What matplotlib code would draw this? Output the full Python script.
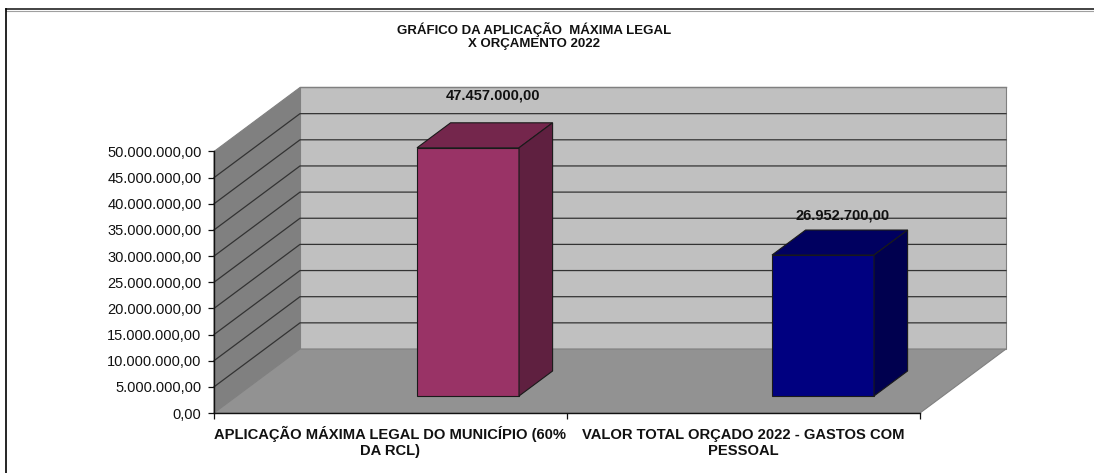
import matplotlib
matplotlib.use("Agg")
import matplotlib.pyplot as plt
from matplotlib.lines import Line2D
from matplotlib.patches import Polygon
from matplotlib.ticker import FuncFormatter

plt.rcParams["font.family"] = ["Liberation Sans", "DejaVu Sans"]

categories = [["APLICAÇÃO MÁXIMA LEGAL DO MUNICÍPIO (60%", "DA RCL)"],
              ["VALOR TOTAL ORÇADO 2022 - GASTOS COM", "PESSOAL"]]
values = [47457000.00, 26952700.00]
value_labels = ["47.457.000,00", "26.952.700,00"]
y_ticks = list(range(0, 50000001, 5000000))
title = "GRÁFICO DA APLICAÇÃO  MÁXIMA LEGAL\nX ORÇAMENTO 2022"

W, H = 1094, 473
X0, X1, Y0, Y1 = 214, 920, 413, 151.5  # front plane of the plot, in pixels
YMAX = 50000000

# pixel to data scales on the front plane
px_x = 2 / (X1 - X0)
px_y = YMAX / (Y0 - Y1)
DX, DY = 86 * px_x, 64 * px_y  # full depth of the box

BAR_COLORS = [("#993366", "#74264c", "#5f2040"), ("#000080", "#000060", "#00004f")]
BAR_LEFT = [417, 772]
BAR_W = 102 * px_x
BAR_DEPTH = 25 / 64
BAR_OFFSET = 17 / 64


def fmt(v, _pos=None):
    return f"{v:,.2f}".replace(",", "X").replace(".", ",").replace("X", ".")


fig = plt.figure(figsize=(W / 100, H / 100), dpi=100)
ax = fig.add_axes([X0 / W, 1 - Y0 / H, (X1 - X0) / W, (Y0 - Y1) / H])
ax.set_xlim(0, 2)
ax.set_ylim(0, YMAX)
ax.patch.set_visible(False)


def poly(pts, fc, ec="#808080", lw=0.8, z=1):
    ax.add_patch(Polygon(pts, closed=True, fc=fc, ec=ec, lw=lw, zorder=z, clip_on=False))


# walls and floor
poly([(0, 0), (DX, DY), (DX, YMAX + DY), (0, YMAX)], "#808080")
poly([(DX, DY), (2 + DX, DY), (2 + DX, YMAX + DY), (DX, YMAX + DY)], "#c0c0c0")
poly([(0, 0), (2, 0), (2 + DX, DY), (DX, DY)], "#929292", z=1.5)

# gridlines
for t in y_ticks[1:-1]:
    ax.plot([0, DX, 2 + DX], [t, t + DY, t + DY], color="#333333", lw=0.9,
            zorder=2, clip_on=False)
ax.plot([DX, 2 + DX], [YMAX + DY, YMAX + DY], color="#808080", lw=1.0, zorder=2, clip_on=False)

# bars
for i, v in enumerate(values):
    left = (BAR_LEFT[i] - X0) * px_x
    right = left + BAR_W
    base = BAR_OFFSET * DY
    top = base + v
    ddx, ddy = BAR_DEPTH * DX, BAR_DEPTH * DY
    front, roof, side = BAR_COLORS[i]
    poly([(left, base), (right, base), (right, top), (left, top)], front, "#1a1a1a", 0.8, 3)
    poly([(left, top), (right, top), (right + ddx, top + ddy), (left + ddx, top + ddy)],
         roof, "#1a1a1a", 0.8, 3)
    poly([(right, base), (right + ddx, base + ddy), (right + ddx, top + ddy), (right, top)],
         side, "#1a1a1a", 0.8, 3)

ax.text((493.5 - X0) * px_x, (Y0 - 96) * px_y, value_labels[0], ha="center", va="center",
        fontsize=10.5, fontweight="bold", color="#111111", zorder=5)
ax.text((842.5 - X0) * px_x, (Y0 - 216) * px_y, value_labels[1], ha="center", va="center",
        fontsize=10.5, fontweight="bold", color="#111111", zorder=5)

# axes
for s in ["top", "right"]:
    ax.spines[s].set_visible(False)
for s in ["left", "bottom"]:
    ax.spines[s].set_color("#111111")
    ax.spines[s].set_linewidth(1.0)
    ax.spines[s].set_zorder(4)
ax.set_yticks(y_ticks)
ax.yaxis.set_major_formatter(FuncFormatter(fmt))
ax.tick_params(axis="y", length=4, width=0.9, pad=5, labelsize=10.5, colors="#111111")
ax.set_xticks([0, 1, 2])
ax.set_xticklabels([])
ax.tick_params(axis="x", length=4, width=0.9, colors="#111111")
for i, lines in enumerate(categories):
    for j, line in enumerate(lines):
        ax.text(i + 0.5, -(25.5 + 16 * j) * px_y, line, ha="center", va="baseline",
                fontsize=10.6, fontweight="bold", color="#111111", clip_on=False)

# title and chart frame (only top and left edges show)
fig.text(534 / W, 1 - 36 / H, title, ha="center", va="center", fontsize=9.5,
         fontweight="bold", color="#111111", linespacing=1.05)
fig.add_artist(Line2D([6 / W, 1], [1 - 9.5 / H, 1 - 9.5 / H], color="#222222", lw=1.2))
fig.add_artist(Line2D([6 / W, 1], [1 - 11 / H, 1 - 11 / H], color="#a0a0a0", lw=0.8))
fig.add_artist(Line2D([6 / W, 6 / W], [0, 1 - 9 / H], color="black", lw=1.2))

fig.savefig("out.png", dpi=100)
plt.close(fig)
